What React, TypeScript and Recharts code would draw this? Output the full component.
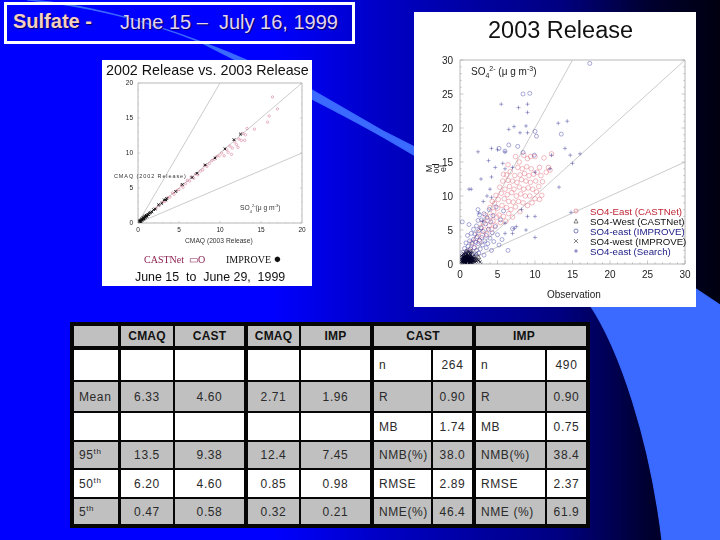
import { ScatterChart, Scatter, XAxis, YAxis, ReferenceLine, Legend } from "recharts";

// ---- 2003 release panel (obs, model) ----
const castnetEast = [
  [1.2,2.0],[1.6,3.2],[1.9,2.4],[2.2,3.8],[2.4,4.6],[2.6,3.3],[2.8,5.4],[3.0,4.2],[3.1,6.1],[3.3,5.0],
  [3.4,7.2],[3.6,4.4],[3.7,6.4],[3.9,5.6],[4.0,8.3],[4.1,7.0],[4.2,5.1],[4.3,9.2],[4.4,6.3],[4.5,7.7],
  [4.6,8.9],[4.7,5.7],[4.8,10.1],[4.9,6.9],[5.0,8.2],[5.1,9.5],[5.2,7.2],[5.3,11.3],[5.4,6.1],[5.5,10.4],
  [5.6,8.6],[5.7,12.2],[5.8,7.0],[5.9,9.6],[6.0,11.0],[6.1,6.3],[6.2,13.1],[6.2,8.3],[6.3,10.2],[6.4,12.3],
  [6.5,7.4],[6.5,9.2],[6.6,11.4],[6.7,13.6],[6.8,8.0],[6.9,10.5],[7.0,12.2],[7.0,6.9],[7.1,9.1],[7.2,11.0],
  [7.3,13.0],[7.4,8.4],[7.5,10.0],[7.6,12.0],[7.7,14.2],[7.8,9.2],[7.9,11.3],[8.0,13.1],[8.0,7.7],[8.1,10.3],
  [8.2,12.4],[8.3,14.0],[8.4,9.0],[8.5,16.0],[8.5,11.0],[8.6,13.3],[8.7,10.0],[8.8,12.2],[8.9,14.3],[9.0,15.5],
  [9.0,8.6],[9.1,11.2],[9.2,13.0],[9.3,10.0],[9.4,12.0],[9.5,14.0],[9.6,9.0],[9.7,11.0],[9.8,13.2],[10.0,15.8],
  [10.0,9.6],[10.1,12.2],[10.2,10.6],[10.3,13.5],[10.5,11.4],[10.6,9.5],[10.8,13.0],[10.9,10.1],[11.0,12.1],[11.2,15.6],
  [11.5,13.5],[11.8,14.2],[12.2,16.2],[12.0,13.8],[7.4,15.8],[6.4,14.6],[5.8,13.2],[7.9,15.0],[9.4,15.8],[10.6,14.2],
];
const castnetWest = [
  [0.4,0.5],[0.6,0.9],[0.7,0.4],[0.9,1.2],[1.0,0.7],[1.1,1.5],[1.2,0.9],[1.3,0.5],[1.4,1.2],[1.5,1.9],
  [1.6,0.8],[1.7,1.4],[1.9,1.1],[2.0,0.6],[2.2,1.5],[0.5,1.4],[0.8,1.8],[2.5,1.0],
];
const improveEast = [
  [0.3,1.0],[0.4,1.7],[0.5,0.7],[0.6,2.3],[0.7,1.3],[0.8,3.1],[0.9,1.9],[1.0,4.2],[1.0,0.9],[1.1,2.6],
  [1.2,5.8],[1.2,1.5],[1.3,3.4],[1.4,2.2],[1.5,4.5],[1.5,0.8],[1.6,3.0],[1.7,1.5],[1.8,3.6],[1.8,5.1],
  [1.9,2.4],[2.0,4.4],[2.0,1.2],[2.1,3.2],[2.2,5.6],[2.2,2.0],[2.3,4.0],[2.4,3.0],[2.4,6.4],[2.5,1.6],
  [2.5,4.9],[2.6,7.2],[2.6,3.5],[2.7,2.2],[2.8,5.3],[2.9,3.9],[2.9,6.5],[3.0,2.8],[3.1,4.8],[3.2,7.4],
  [3.2,1.3],[3.3,3.4],[3.4,5.9],[3.5,4.2],[3.5,2.4],[3.6,6.8],[3.7,3.0],[3.8,5.1],[3.9,8.0],[4.0,3.8],
  [4.1,6.2],[4.2,2.0],[4.3,4.6],[4.4,7.1],[4.5,3.3],[4.7,5.5],[4.8,8.4],[5.0,4.3],[5.2,2.8],[5.4,6.5],
  [5.6,3.6],[5.8,7.8],[6.4,2.0],[7.0,5.2],[8.4,25.0],[9.3,25.1],[17.3,29.5],[10.0,19.5],[10.2,18.8],[13.5,19.1],
  [6.5,17.5],[8.4,16.4],[9.9,16.0],[5.2,17.0],[6.0,16.6],[7.7,17.3],[0.3,6.2],[2.4,8.0],
];
const improveWest = [
  [0.1,0.2],[0.2,0.4],[0.2,0.7],[0.3,0.3],[0.3,0.5],[0.3,0.9],[0.4,0.2],[0.4,0.6],[0.4,0.8],[0.4,1.1],
  [0.5,0.3],[0.5,0.5],[0.5,0.7],[0.5,1.0],[0.6,0.2],[0.6,0.4],[0.6,0.6],[0.6,0.9],[0.6,1.2],[0.7,0.3],
  [0.7,0.5],[0.7,0.8],[0.7,1.0],[0.8,0.2],[0.8,0.4],[0.8,0.6],[0.8,0.9],[0.8,1.2],[0.9,0.3],[0.9,0.5],
  [0.9,0.7],[0.9,1.0],[0.9,1.4],[1.0,0.2],[1.0,0.4],[1.0,0.6],[1.0,0.8],[1.0,1.1],[1.1,0.3],[1.1,0.5],
  [1.1,0.7],[1.1,0.9],[1.1,1.3],[1.2,0.2],[1.2,0.4],[1.2,0.6],[1.2,0.8],[1.2,1.1],[1.3,0.3],[1.3,0.5],
  [1.3,0.7],[1.3,1.0],[1.3,1.5],[1.4,0.2],[1.4,0.4],[1.4,0.6],[1.4,0.9],[1.4,1.2],[1.5,0.3],[1.5,0.6],
  [1.5,0.8],[1.6,0.2],[1.6,0.5],[1.6,1.0],[1.7,0.4],[1.7,0.7],[1.8,0.3],[1.8,0.9],[1.9,0.5],[2.0,0.3],
  [2.0,0.8],[2.2,0.4],[2.3,0.7],[2.5,0.5],[2.7,0.3],[0.2,1.2],[0.5,1.5],[0.8,1.7],[1.1,1.9],[1.4,1.7],
];
const searchEast = [
  [5.5,23.5],[7.8,23.0],[9.0,23.5],[9.0,22.3],[7.2,20.2],[8.8,20.3],[13.1,20.7],[14.3,21.0],[8.0,19.3],[9.0,19.3],
  [2.4,16.5],[4.2,17.0],[5.0,16.8],[6.0,16.5],[3.8,15.2],[5.7,14.8],[4.7,14.2],[6.0,14.0],[7.0,14.2],[12.2,16.0],
  [14.0,17.0],[14.7,16.0],[16.0,16.2],[15.0,14.8],[12.0,14.0],[13.2,11.3],[10.0,13.5],[2.8,12.5],[1.5,11.0],[1.2,11.0],
  [4.0,11.0],[3.6,10.0],[4.2,9.8],[8.2,8.0],[10.0,7.0],[9.0,7.0],[8.8,5.0],[10.0,3.9],[7.0,4.5],[6.0,4.5],
  [6.0,6.0],[2.5,7.5],[3.0,6.3],[7.5,5.5],[7.2,5.2],[6.5,19.8],[4.2,12.8],[3.1,9.2],[14.8,7.6],
];

const ticks30 = [...Array(31).keys()];
const seriesNames = ["SO4-East (CASTNet)", "SO4-West (CASTNet)", "SO4-east (IMPROVE)", "SO4-west (IMPROVE)", "SO4-east (Search)"];
const legendColors = ["#c02535", "#111", "#202088", "#111", "#202088"];

// ---- 2002 vs 2003 panel ----
const castnetCompare = [
  [2.2,2.1],[2.6,2.5],[3.0,3.0],[3.3,3.1],[3.6,3.6],[3.9,3.7],[4.2,4.3],[4.4,4.1],[4.7,4.6],[5.0,4.8],
  [5.3,5.4],[5.5,5.1],[5.8,5.6],[6.0,6.1],[6.3,6.0],[6.5,6.6],[6.8,6.4],[7.0,7.0],[7.3,6.9],[7.6,7.4],
  [7.9,7.6],[8.1,8.2],[8.4,8.1],[8.7,8.5],[9.0,8.9],[9.3,9.1],[9.6,9.5],[9.9,9.6],[10.2,10.0],[10.5,9.6],
  [10.8,10.5],[11.0,10.1],[11.2,11.0],[11.5,10.7],[11.8,11.6],[12.0,11.2],[12.3,12.0],[12.6,11.8],[12.8,12.8],[13.1,12.6],
  [13.3,13.5],[13.0,11.8],[14.2,13.4],[15.8,14.4],[16.0,15.3],[17.0,16.3],[16.4,18.0],[11.4,9.8],[12.2,10.8],
];
const improveCompare = [
  [0.1,0.1],[0.2,0.2],[0.2,0.3],[0.3,0.2],[0.3,0.4],[0.4,0.3],[0.4,0.5],[0.5,0.4],[0.5,0.6],[0.6,0.5],
  [0.6,0.7],[0.7,0.6],[0.7,0.8],[0.8,0.7],[0.8,0.9],[0.9,0.8],[0.9,1.0],[1.0,0.9],[1.0,1.1],[1.1,1.0],
  [1.2,1.2],[1.3,1.2],[1.4,1.4],[1.5,1.5],[1.7,1.6],[1.9,1.9],[2.1,2.0],[2.5,2.6],[2.9,2.8],[3.2,3.3],
  [3.4,3.3],[3.5,3.5],[4.6,4.5],[5.4,5.5],[6.6,6.5],[7.2,7.1],[8.2,8.3],[9.4,9.3],[10.6,10.6],[11.7,11.9],[12.5,12.7],
];
const ticks20 = [...Array(21).keys()];

// ---- statistics table ----
const headerCells = ["", "CMAQ", "CAST", "CMAQ", "IMP"];
const rowLabels = ["", "Mean", "", "95", "50", "5"];
const cmaqCast = ["", "6.33", "", "13.5", "6.20", "0.47"];
const castObs = ["", "4.60", "", "9.38", "4.60", "0.58"];
const cmaqImp = ["", "2.71", "", "12.4", "0.85", "0.32"];
const impObs = ["", "1.96", "", "7.45", "0.98", "0.21"];
const castStatNames = ["n", "R", "MB", "NMB(%)", "RMSE", "NME(%)"];
const castStats = ["264", "0.90", "1.74", "38.0", "2.89", "46.4"];
const impStatNames = ["n", "R", "MB", "NMB(%)", "RMSE", "NME (%)"];
const impStats = ["490", "0.90", "0.75", "38.4", "2.37", "61.9"];

const colEdges = [[74,118],[121,173],[175,244],[248,299],[301,370],[374,431],[433,472],[476,545],[547,586]];
const rowEdges = [[350,380],[382,411],[413,440],[442,468],[470,497],[499,524]];
const GREY = "#c0c0c0";
const FONT = "'Liberation Sans', Arial, sans-serif";

const toPts = (rows: number[][]) => rows.map(([x, y]) => ({ x, y }));

const makeTick = (side: string, size: number, fontSize: number, major: number, stroke: string, color: string) => (props: any) => {
  const { x, y, payload } = props;
  const v = payload.value;
  const isMajor = v % 5 === 0;
  const len = isMajor ? major : major / 2;
  if (side === "bottom") return (
    <g>
      <line x1={x} x2={x} y1={y} y2={y - len} stroke={stroke} strokeWidth={0.6} />
      {isMajor && <text x={x} y={y + size} textAnchor="middle" fontSize={fontSize} fill={color} fontFamily={FONT}>{v}</text>}
    </g>
  );
  if (side === "left") return (
    <g>
      <line x1={x} x2={x + len} y1={y} y2={y} stroke={stroke} strokeWidth={0.6} />
      {isMajor && <text x={x - size} y={y + fontSize * 0.36} textAnchor="end" fontSize={fontSize} fill={color} fontFamily={FONT}>{v}</text>}
    </g>
  );
  if (side === "top") return <line x1={x} x2={x} y1={y} y2={y + len} stroke={stroke} strokeWidth={0.6} />;
  return <line x1={x} x2={x - len} y1={y} y2={y} stroke={stroke} strokeWidth={0.6} />;
};

const circleMark = (r: number, w: number, op: number) => (p: any) => (
  <circle cx={p.cx} cy={p.cy} r={r} fill="none" stroke={p.stroke} strokeWidth={w} strokeOpacity={op} />
);
const triMark = (p: any) => (
  <path d={`M${p.cx} ${p.cy - 2}L${p.cx + 2} ${p.cy + 1.5}L${p.cx - 2} ${p.cy + 1.5}Z`} fill="none" stroke={p.stroke} strokeWidth={0.5} />
);
const crossMark = (s: number, w: number) => (p: any) => (
  <path d={`M${p.cx - s} ${p.cy - s}L${p.cx + s} ${p.cy + s}M${p.cx - s} ${p.cy + s}L${p.cx + s} ${p.cy - s}`} stroke={p.stroke} strokeWidth={w} />
);
const plusMark = (p: any) => (
  <path d={`M${p.cx - 2} ${p.cy}L${p.cx + 2} ${p.cy}M${p.cx} ${p.cy - 2}L${p.cx} ${p.cy + 2}`} stroke={p.stroke} strokeWidth={0.6} strokeOpacity={0.7} />
);

const LINE_GREY = "#b4b4b4";

function RightChart() {
  const axis = { type: "number" as const, domain: [0, 30], ticks: ticks30, interval: 0 as const, tickSize: 0, tickMargin: 0, allowDataOverflow: true, stroke: "#b8b8b8" };
  return (
    <ScatterChart width={282} height={295} margin={{ top: 47, left: 45, right: 10, bottom: 42 }} style={{ position: "absolute", left: 0, top: 0 }}>
      <XAxis xAxisId="b" dataKey="x" height={1} {...axis} tick={makeTick("bottom", 14, 10, 3.5, "#a8a8a8", "#222")} />
      <XAxis xAxisId="t" orientation="top" height={1} {...axis} tick={makeTick("top", 0, 0, 3.5, "#a8a8a8", "#222")} />
      <YAxis yAxisId="l" dataKey="y" width={1} {...axis} tick={makeTick("left", 7, 10, 3.5, "#a8a8a8", "#222")} />
      <YAxis yAxisId="r" orientation="right" width={1} {...axis} tick={makeTick("right", 0, 0, 3.5, "#a8a8a8", "#222")} />
      <ReferenceLine xAxisId="b" yAxisId="l" segment={[{ x: 0, y: 0 }, { x: 15, y: 30 }]} stroke={LINE_GREY} strokeWidth={0.7} />
      <ReferenceLine xAxisId="b" yAxisId="l" segment={[{ x: 0, y: 0 }, { x: 30, y: 30 }]} stroke={LINE_GREY} strokeWidth={0.7} />
      <ReferenceLine xAxisId="b" yAxisId="l" segment={[{ x: 0, y: 0 }, { x: 30, y: 15 }]} stroke={LINE_GREY} strokeWidth={0.7} />
      <Scatter name={seriesNames[0]} xAxisId="b" yAxisId="l" data={toPts(castnetEast)} stroke="#e06070" fill="none" shape={circleMark(2.3, 0.5, 0.85)} isAnimationActive={false} />
      <Scatter name={seriesNames[1]} xAxisId="b" yAxisId="l" data={toPts(castnetWest)} stroke="#202020" fill="none" shape={triMark} isAnimationActive={false} />
      <Scatter name={seriesNames[2]} xAxisId="b" yAxisId="l" data={toPts(improveEast)} stroke="#3030a0" fill="none" shape={circleMark(2, 0.5, 0.8)} isAnimationActive={false} />
      <Scatter name={seriesNames[3]} xAxisId="b" yAxisId="l" data={toPts(improveWest)} stroke="#000020" fill="none" shape={crossMark(1.6, 0.7)} isAnimationActive={false} />
      <Scatter name={seriesNames[4]} xAxisId="b" yAxisId="l" data={toPts(searchEast)} stroke="#303090" fill="none" shape={plusMark} isAnimationActive={false} />
      <Legend
        layout="vertical" align="center" verticalAlign="middle" itemSorter={null}
        wrapperStyle={{ left: 176, top: 195, width: 100, bottom: "auto", right: "auto" }}
        content={() => (
          <div style={{ fontFamily: FONT, fontSize: 9.7, lineHeight: "10px" }}>
            {seriesNames.map((name, i) => (
              <div key={i} style={{ color: legendColors[i], whiteSpace: "nowrap" }}>{name}</div>
            ))}
          </div>
        )}
      />
    </ScatterChart>
  );
}

function LeftChart() {
  const axis = { type: "number" as const, domain: [0, 20], ticks: ticks20, interval: 0 as const, tickSize: 0, tickMargin: 0, allowDataOverflow: true, stroke: "#b8b8b8" };
  return (
    <ScatterChart width={210} height={226} margin={{ top: 22, left: 35, right: 9, bottom: 62 }} style={{ position: "absolute", left: 0, top: 0 }}>
      <XAxis xAxisId="b" dataKey="x" height={1} {...axis} tick={makeTick("bottom", 9, 6.5, 2, "#b8b8b8", "#222")} />
      <XAxis xAxisId="t" orientation="top" height={1} {...axis} tick={makeTick("top", 0, 0, 2, "#b8b8b8", "#222")} />
      <YAxis yAxisId="l" dataKey="y" width={1} {...axis} tick={makeTick("left", 5, 6.5, 2, "#b8b8b8", "#222")} />
      <YAxis yAxisId="r" orientation="right" width={1} {...axis} tick={makeTick("right", 0, 0, 2, "#b8b8b8", "#222")} />
      <ReferenceLine xAxisId="b" yAxisId="l" segment={[{ x: 0, y: 0 }, { x: 10, y: 20 }]} stroke={LINE_GREY} strokeWidth={0.7} />
      <ReferenceLine xAxisId="b" yAxisId="l" segment={[{ x: 0, y: 0 }, { x: 20, y: 20 }]} stroke={LINE_GREY} strokeWidth={0.7} />
      <ReferenceLine xAxisId="b" yAxisId="l" segment={[{ x: 0, y: 0 }, { x: 20, y: 10 }]} stroke={LINE_GREY} strokeWidth={0.7} />
      <Scatter xAxisId="b" yAxisId="l" data={toPts(castnetCompare)} stroke="#d06080" fill="none" shape={circleMark(1.2, 0.5, 0.9)} isAnimationActive={false} />
      <Scatter xAxisId="b" yAxisId="l" data={toPts(improveCompare)} stroke="#101010" fill="none" shape={crossMark(1.3, 1)} isAnimationActive={false} />
    </ScatterChart>
  );
}

const legendMarks = [
  <circle cx={4} cy={4} r={2} fill="none" stroke="#e06070" strokeWidth={0.6} />,
  <path d="M4 2L6 6L2 6Z" fill="none" stroke="#333" strokeWidth={0.6} />,
  <circle cx={4} cy={4} r={2} fill="none" stroke="#3030a0" strokeWidth={0.6} />,
  <path d="M2 2L6 6M2 6L6 2" stroke="#333" strokeWidth={0.6} />,
  <path d="M2 4L6 4M4 2L4 6" stroke="#303090" strokeWidth={0.6} />,
];

function Cell({ col, top, bottom, colSpan = 1, bg, children, align = "center", bold = false, shift = 0 }: any) {
  const left = colEdges[col][0];
  const right = colEdges[col + colSpan - 1][1];
  return (
    <div style={{
      position: "absolute", left, top, width: right - left, height: bottom - top, background: bg,
      display: "flex", alignItems: "center", justifyContent: align === "left" ? "flex-start" : "center",
      fontFamily: FONT, fontSize: 12, letterSpacing: bold ? 0.2 : 0.6, color: bold ? "#111" : "#2a2a2a", fontWeight: bold ? 700 : 400,
    }}>
      <span style={{ marginLeft: align === "left" ? 5 : shift, whiteSpace: "nowrap" }}>{children}</span>
    </div>
  );
}

function StatsTable() {
  const rowBg = ["#fff", GREY, "#fff", GREY, "#fff", GREY];
  const columns = [rowLabels, cmaqCast, castObs, cmaqImp, impObs];
  const rightCols = [castStatNames, castStats, impStatNames, impStats];
  return (
    <>
      <div style={{ position: "absolute", left: 70, top: 322, width: 520, height: 206, background: "#060606" }} />
      {headerCells.map((t, i) => (
        <Cell key={i} col={i} top={326} bottom={346} bg={GREY} bold>{t}</Cell>
      ))}
      <Cell col={5} colSpan={2} top={326} bottom={346} bg={GREY} bold>CAST</Cell>
      <Cell col={7} colSpan={2} top={326} bottom={346} bg={GREY} bold shift={-14}>IMP</Cell>
      {rowEdges.map(([top, bottom], r) => (
        <div key={r}>
          {columns.map((c, i) => (
            <Cell key={i} col={i} top={top} bottom={bottom} bg={rowBg[r]} align={i === 0 ? "left" : "center"}>
              {i === 0 && r >= 3 ? <>{c[r]}<sup style={{ fontSize: 8, lineHeight: 0 }}>th</sup></> : c[r]}
            </Cell>
          ))}
          {rightCols.map((c, i) => (
            <Cell key={i} col={i + 5} top={top} bottom={bottom} bg={rowBg[r]} align={i % 2 === 0 ? "left" : "center"}>{c[r]}</Cell>
          ))}
        </div>
      ))}
    </>
  );
}

export default function App() {
  return (
    <div style={{ position: "fixed", left: 0, top: 0, width: 720, height: 540, overflow: "hidden", background: "linear-gradient(90deg,#0000ff 0%,#0000ff 38%,#0000c8 52%,#000080 78%,#000030 90%,#000010 100%)" }}>
      <svg width={720} height={540} style={{ position: "absolute", left: 0, top: 0 }}>
        <path d="M27 0C100 4 200 35 312 90L383 131L696 289L720 305L720 540L662 540C650 440 620 350 590 305C540 240 460 180 383 137C340 112 290 88 200 42C150 22 90 6 27 0Z" fill="#3a6aff" stroke="#3a6aff" strokeWidth={1.2} />
      </svg>

      <div style={{ position: "absolute", left: 4, top: 2, width: 345, height: 36, border: "3px solid #fff", fontFamily: FONT, color: "#e4d4f0", whiteSpace: "nowrap" }}>
        <span style={{ position: "absolute", left: 6, top: 5, fontSize: 20, fontWeight: 700, color: "#f5cfc0", textShadow: "1px 1px 1px #000060" }}>Sulfate -</span>
        <span style={{ position: "absolute", left: 113, top: 6, fontSize: 20, textShadow: "1px 1px 1px #000060" }}>June 15 –&nbsp; July 16, 1999</span>
      </div>

      {/* left panel */}
      <div style={{ position: "absolute", left: 102, top: 60, width: 210, height: 226, background: "#fff", fontFamily: FONT, color: "#111", filter: "blur(0.3px)" }}>
        <LeftChart />
        <div style={{ position: "absolute", left: 4, top: 2, fontSize: 14.3, whiteSpace: "nowrap" }}>2002 Release vs. 2003 Release</div>
        <div style={{ position: "absolute", left: 12, top: 113, fontSize: 5.5, letterSpacing: 0.9, whiteSpace: "nowrap", color: "#333" }}>CMAQ (2002 Release)</div>
        <div style={{ position: "absolute", left: 83, top: 177, fontSize: 6.7, whiteSpace: "nowrap", color: "#333" }}>CMAQ (2003 Release)</div>
        <div style={{ position: "absolute", left: 138, top: 143, fontSize: 6.7, whiteSpace: "nowrap", color: "#333" }}>SO<sub style={{ fontSize: 4 }}>4</sub><sup style={{ fontSize: 4 }}>2-</sup>(μ g m<sup style={{ fontSize: 4 }}>-3</sup>)</div>
        <div style={{ position: "absolute", left: 42, top: 194, fontFamily: "'Liberation Serif', serif", fontSize: 10, color: "#8b2050", whiteSpace: "nowrap" }}>CASTNet &nbsp;▭O</div>
        <div style={{ position: "absolute", left: 124, top: 194, fontFamily: "'Liberation Serif', serif", fontSize: 10, whiteSpace: "nowrap" }}>IMPROVE <span style={{ fontSize: 13, lineHeight: 0 }}>●</span></div>
        <div style={{ position: "absolute", left: 33, top: 210, fontSize: 12.4, whiteSpace: "nowrap" }}>June 15&nbsp; to&nbsp; June 29,&nbsp; 1999</div>
      </div>

      {/* right panel */}
      <div style={{ position: "absolute", left: 414, top: 12, width: 282, height: 295, background: "#fff", fontFamily: FONT, color: "#111", filter: "blur(0.3px)" }}>
        <RightChart />
        <div style={{ position: "absolute", left: 74, top: 5, fontSize: 23.5, whiteSpace: "nowrap" }}>2003 Release</div>
        <div style={{ position: "absolute", left: 57, top: 53, fontSize: 10, whiteSpace: "nowrap", color: "#222" }}>SO<sub style={{ fontSize: 7 }}>4</sub><sup style={{ fontSize: 7 }}>2-</sup> (μ g m<sup style={{ fontSize: 7 }}>-3</sup>)</div>
        <div style={{ position: "absolute", left: 133, top: 277, fontSize: 10, whiteSpace: "nowrap", color: "#222" }}>Observation</div>
        <div style={{ position: "absolute", left: 10, top: 146, width: 24, fontSize: 9, lineHeight: "7px", textAlign: "center", transform: "rotate(-90deg)", color: "#222" }}>M<br />od<br />el</div>
        <svg width={8} height={50} style={{ position: "absolute", left: 158, top: 195 }}>
          {legendMarks.map((m, i) => <g key={i} transform={`translate(0 ${i * 10})`}>{m}</g>)}
        </svg>
      </div>

      <StatsTable />
    </div>
  );
}
